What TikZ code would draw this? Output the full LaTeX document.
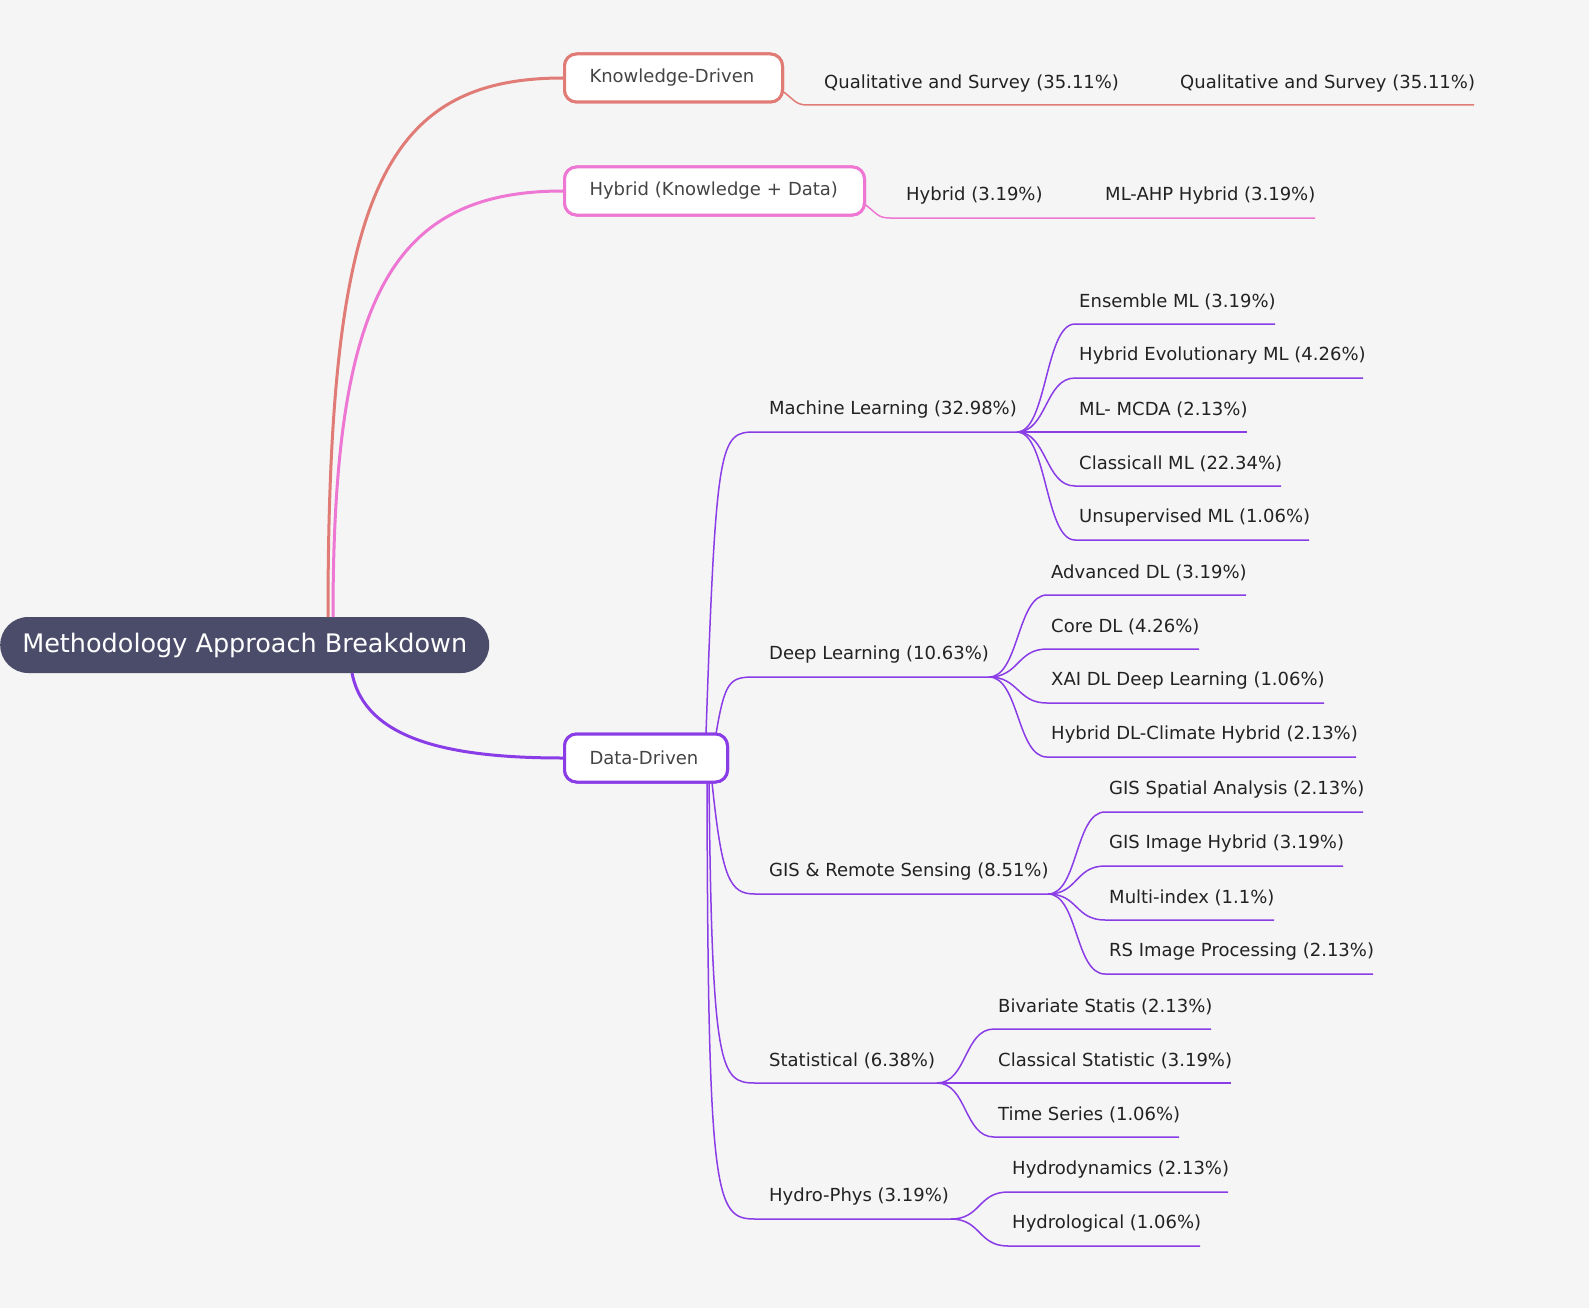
\documentclass[tikz,border=0pt]{standalone}
\usepackage{fontspec}
\setmainfont{DejaVu Sans}
\definecolor{bg}{HTML}{F5F5F5}
\definecolor{kd}{HTML}{E07B76}
\definecolor{hy}{HTML}{EE77D3}
\definecolor{dd}{HTML}{8A3DE6}
\definecolor{rootc}{HTML}{4A4C6A}
\definecolor{txt}{HTML}{222222}
\definecolor{btxt}{HTML}{444444}
\newcommand{\leaf}[8]{%
  \coordinate (#1-s) at (#4,#5);
  \node[lbl] (#1) at (#4+4,#5-22) {#7};
  \draw[#8, line width=1.5pt] (#2,#3) .. controls +(30,0) and +(-30,0) .. (#1-s) -- (#6,#5);
}
\begin{document}
\begin{tikzpicture}[x=1pt,y=-1pt,
  lbl/.style={anchor=west, inner sep=0pt, text=txt, font=\fontsize{18}{21}\selectfont},
  catbox/.style={draw, line width=3pt, fill=white, rounded corners=12pt, minimum height=48pt, anchor=west, text=btxt, font=\fontsize{18}{21}\selectfont, inner xsep=25pt, align=left}]
\fill[bg] (0,0) rectangle (1589,1308);
\useasboundingbox (0,0) rectangle (1589,1308);
\node[fill=rootc, rounded corners=28pt, minimum width=489pt, minimum height=56pt, anchor=west, text=white, font=\fontsize{25.5}{30}\selectfont] (root) at (0,645) {Methodology Approach Breakdown};
\node[catbox, draw=kd, text width=168pt] (kdn) at (563,78) {Knowledge-Driven};
\node[catbox, draw=hy, text width=250pt] (hyn) at (563,191) {Hybrid (Knowledge + Data)};
\node[catbox, draw=dd, text width=113pt] (ddn) at (563,758) {Data-Driven};
\coordinate (r1) at (328,617); \coordinate (r2) at (333,617); \coordinate (r3) at (352,673);
\draw[kd, line width=3pt] (r1) .. controls (328,200) and (380,78) .. (kdn.west);
\draw[hy, line width=3pt] (r2) .. controls (333,300) and (390,191) .. (hyn.west);
\draw[dd, line width=3pt] (r3) .. controls (365,740) and (450,758) .. (ddn.west);
\node[catbox, draw=kd, text width=168pt] at (563,78) {Knowledge-Driven};
\node[catbox, draw=hy, text width=250pt] at (563,191) {Hybrid (Knowledge + Data)};
% knowledge
\coordinate (k1s) at (808,105);
\node[lbl] (k1) at (824,84) {Qualitative and Survey (35.11\%)};
\node[lbl] (k2) at (1180,84) {Qualitative and Survey (35.11\%)};
\draw[kd, line width=1.5pt] (781,90) .. controls (795,100) and (795,105) .. (k1s) -- (1474,105);
% hybrid
\coordinate (h1s) at (890,218);
\node[lbl] (h1) at (906,196) {Hybrid (3.19\%)};
\node[lbl] (h2) at (1105,196) {ML-AHP Hybrid (3.19\%)};
\draw[hy, line width=1.5pt] (863,203) .. controls (877,213) and (877,218) .. (h1s) -- (1315,218);
% data-driven subcategories
\draw[dd, line width=1.5pt] (706,734) .. controls (716,440) and (720,432) .. (755,432) -- (1017,432);
\node[lbl] (ml) at (769,410) {Machine Learning (32.98\%)};
\draw[dd, line width=1.5pt] (716,734) .. controls (725,680) and (730,677) .. (755,677) -- (989,677);
\node[lbl] (dl) at (769,655) {Deep Learning (10.63\%)};
\draw[dd, line width=1.5pt] (712,782) .. controls (722,880) and (730,894) .. (755,894) -- (1048,894);
\node[lbl] (gis) at (769,872) {GIS \& Remote Sensing (8.51\%)};
\draw[dd, line width=1.5pt] (709,782) .. controls (712,1070) and (720,1083) .. (755,1083) -- (937,1083);
\node[lbl] (st) at (769,1061) {Statistical (6.38\%)};
\draw[dd, line width=1.5pt] (707,782) .. controls (708,1200) and (715,1219) .. (755,1219) -- (951,1219);
\node[lbl] (hp) at (769,1197) {Hydro-Phys (3.19\%)};
\node[catbox, draw=dd, text width=113pt] at (563,758) {Data-Driven};
% ML leaves
\leaf{m1}{1017}{432}{1075}{324}{1275}{Ensemble ML (3.19\%)}{dd}
\leaf{m2}{1017}{432}{1075}{378}{1363}{Hybrid Evolutionary ML (4.26\%)}{dd}
\leaf{m3}{1017}{432}{1075}{432}{1247}{ML- MCDA (2.13\%)}{dd}
\leaf{m4}{1017}{432}{1075}{486}{1281}{Classicall ML (22.34\%)}{dd}
\leaf{m5}{1017}{432}{1075}{540}{1309}{Unsupervised ML (1.06\%)}{dd}
% DL leaves
\leaf{d1}{989}{677}{1047}{595}{1246}{Advanced DL (3.19\%)}{dd}
\leaf{d2}{989}{677}{1047}{649}{1199}{Core DL (4.26\%)}{dd}
\leaf{d3}{989}{677}{1047}{703}{1324}{XAI DL Deep Learning (1.06\%)}{dd}
\leaf{d4}{989}{677}{1047}{757}{1356}{Hybrid DL-Climate Hybrid (2.13\%)}{dd}
% GIS leaves
\leaf{g1}{1048}{894}{1105}{812}{1363}{GIS Spatial Analysis (2.13\%)}{dd}
\leaf{g2}{1048}{894}{1105}{866}{1343}{GIS Image Hybrid (3.19\%)}{dd}
\leaf{g3}{1048}{894}{1105}{920}{1274}{Multi-index (1.1\%)}{dd}
\leaf{g4}{1048}{894}{1105}{974}{1373}{RS Image Processing (2.13\%)}{dd}
% Statistical leaves
\leaf{s1}{937}{1083}{994}{1029}{1211}{Bivariate Statis (2.13\%)}{dd}
\leaf{s2}{937}{1083}{994}{1083}{1231}{Classical Statistic (3.19\%)}{dd}
\leaf{s3}{937}{1083}{994}{1137}{1179}{Time Series (1.06\%)}{dd}
% Hydro leaves
\leaf{p1}{951}{1219}{1008}{1192}{1228}{Hydrodynamics (2.13\%)}{dd}
\leaf{p2}{951}{1219}{1008}{1246}{1200}{Hydrological (1.06\%)}{dd}
\end{tikzpicture}
\end{document}
